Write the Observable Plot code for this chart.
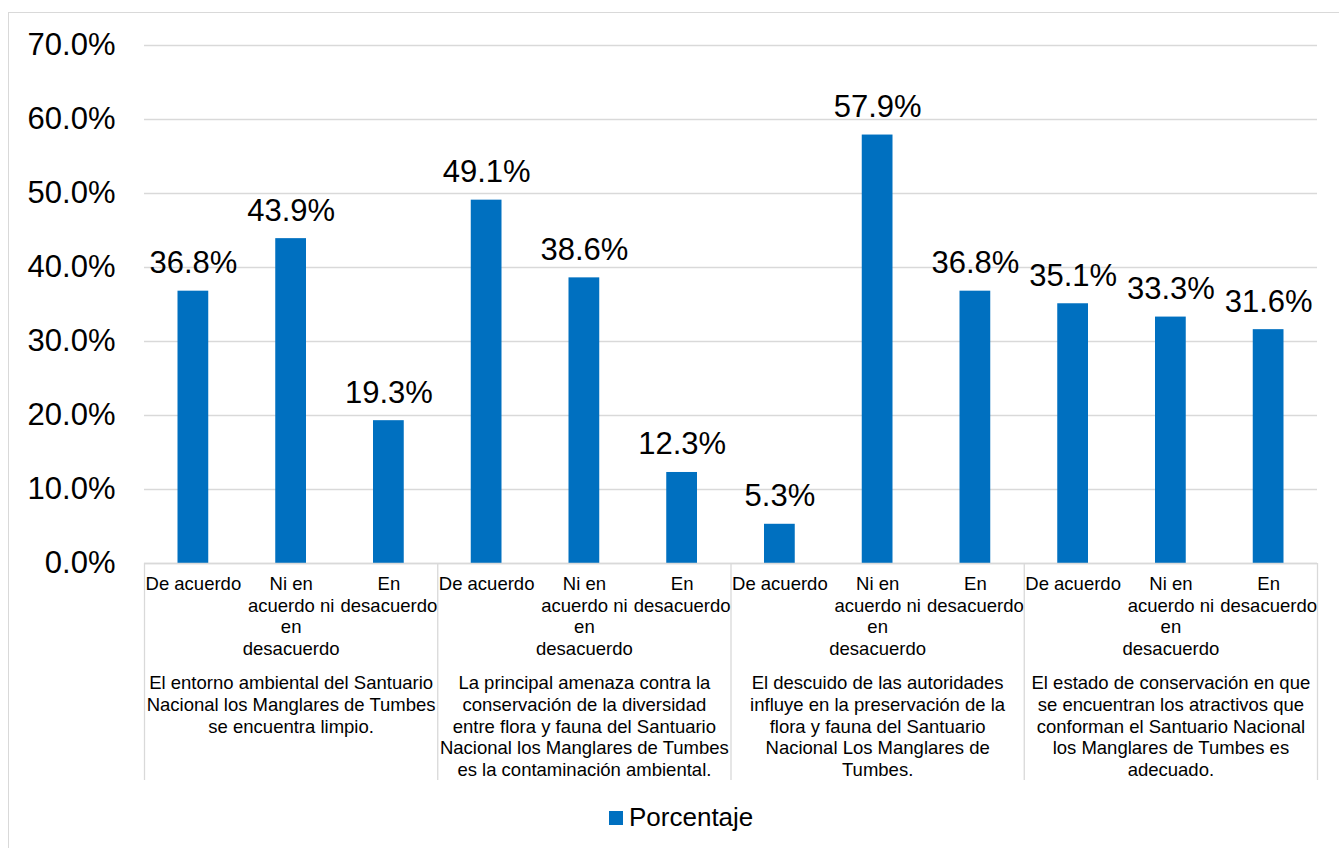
<!DOCTYPE html>
<html>
<head>
<meta charset="utf-8">
<script src="https://cdn.jsdelivr.net/npm/d3@7"></script>
<script src="https://cdn.jsdelivr.net/npm/@observablehq/plot@0.6"></script>
<style>
  html, body { margin: 0; padding: 0; background: #fff; }
  body { position: relative; width: 1339px; height: 848px; overflow: hidden; font-family: "Liberation Sans", Arial, sans-serif; }
  #frame { position: absolute; left: 8px; top: 12px; width: 1340px; height: 850px; border: 1.5px solid #d9d9d9; box-sizing: border-box; }
  #chart { position: absolute; left: 0; top: 0; }
  #legend { position: absolute; left: 609px; top: 802px; display: flex; align-items: center; font-size: 26px; color: #000; }
  #legend .sw { width: 14px; height: 14px; background: #0070c0; margin-right: 6px; }
</style>
</head>
<body>
<div id="frame"></div>
<div id="chart"></div>
<div id="legend"><span class="sw"></span><span>Porcentaje</span></div>
<script>
const groups = [
  "El entorno ambiental del Santuario\nNacional los Manglares de Tumbes\nse encuentra limpio.",
  "La principal amenaza contra la\nconservación de la diversidad\nentre flora y fauna del Santuario\nNacional los Manglares de Tumbes\nes la contaminación ambiental.",
  "El descuido de las autoridades\ninfluye en la preservación de la\nflora y fauna del Santuario\nNacional Los Manglares de\nTumbes.",
  "El estado de conservación en que\nse encuentran los atractivos que\nconforman el Santuario Nacional\nlos Manglares de Tumbes es\nadecuado."
];
const answers = ["De acuerdo", "Ni en\nacuerdo ni\nen\ndesacuerdo", "En\ndesacuerdo"];
const values1 = [0.368, 0.439, 0.193];
const values2 = [0.491, 0.386, 0.123];
const values3 = [0.053, 0.579, 0.368];
const values4 = [0.351, 0.333, 0.316];
const yTicks = [0, 0.1, 0.2, 0.3, 0.4, 0.5, 0.6, 0.7];

const allValues = [values1, values2, values3, values4];
const rows = [];
allValues.forEach((vals, g) => vals.forEach((v, a) => rows.push({i: g * answers.length + a, group: g, answer: answers[a], value: v})));
const groupRows = groups.map((label, g) => ({label, start: g * answers.length, mid: g * answers.length + answers.length / 2}));
const boundaries = d3.range(0, rows.length + 1, answers.length);

const font = '"Liberation Sans", Arial, sans-serif';
const chart = Plot.plot({
  width: 1339,
  height: 790,
  marginLeft: 144,
  marginRight: 22,
  marginTop: 45,
  marginBottom: 227,
  style: {fontFamily: font, color: "#000", background: "transparent"},
  x: {type: "linear", domain: [0, rows.length], axis: null},
  y: {domain: [0, 0.7], axis: null},
  marks: [
    Plot.gridY(yTicks, {stroke: "#d9d9d9", strokeOpacity: 1, strokeWidth: 1.3}),
    Plot.axisY(yTicks, {tickFormat: d3.format(".1%"), tickSize: 0, tickPadding: 29, fontSize: 31, fill: "#000", label: null}),
    Plot.rectY(rows, {x1: "i", x2: d => d.i + 1, y: "value", fill: "#0070c0", insetLeft: 33.5, insetRight: 33.5}),
    Plot.text(rows, {x: d => d.i + 0.5, y: "value", text: d => d3.format(".1%")(d.value), fontSize: 31, lineAnchor: "bottom", dy: -18, fill: "#000"}),
    Plot.ruleY([0], {stroke: "#d9d9d9", strokeWidth: 1.3}),
    Plot.ruleX(boundaries, {x: d => d, y1: 0, y2: 0, insetBottom: -217, stroke: "#d9d9d9", strokeWidth: 1.3}),
    Plot.text(rows, {x: d => d.i + 0.5, y: 0, text: "answer", fontSize: 18.5, lineAnchor: "top", lineHeight: 1.17, dy: 11, fill: "#000"}),
    Plot.text(groupRows, {x: "mid", y: 0, text: "label", fontSize: 18.5, lineAnchor: "top", lineHeight: 1.18, dy: 110, fill: "#000"})
  ]
});
document.getElementById("chart").appendChild(chart);
</script>
</body>
</html>
